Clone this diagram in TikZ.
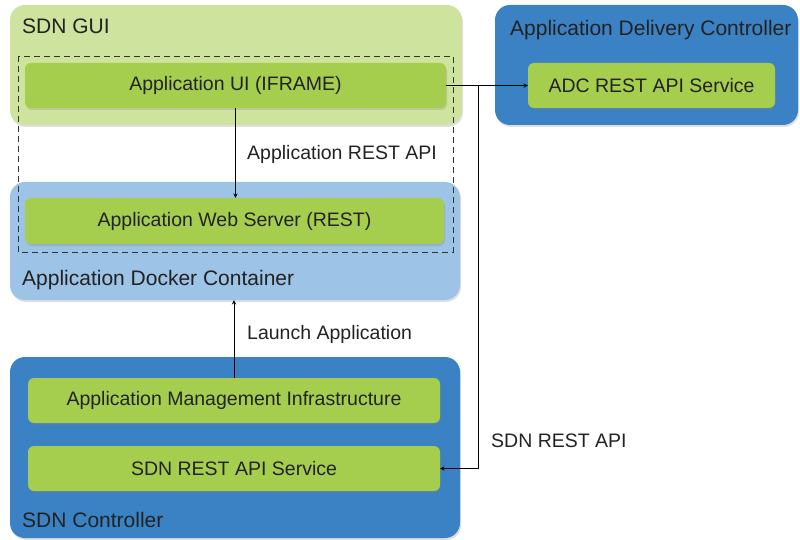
\documentclass[tikz,border=0pt]{standalone}
\usepackage{fontspec}
\setmainfont{Liberation Sans}
\usetikzlibrary{shadows}

\definecolor{guigreen}{HTML}{CEE39D}
\definecolor{svcgreen}{HTML}{A6CE4E}
\definecolor{dockerblue}{HTML}{9DC3E6}
\definecolor{ctlblue}{HTML}{3B82C4}
\definecolor{inktext}{HTML}{222222}

\begin{document}
\begin{tikzpicture}[x=1pt,y=-1pt,
	container/.style={rounded corners=15pt, inner sep=0pt,
		drop shadow={shadow xshift=1pt, shadow yshift=-2pt, opacity=0.25}},
	service/.style={fill=svcgreen, rounded corners=6pt, inner sep=0pt,
		minimum height=45pt, text=inktext,
		font=\fontsize{19.5}{23}\selectfont,
		drop shadow={shadow xshift=1pt, shadow yshift=-2pt, opacity=0.25}},
	title/.style={anchor=base west, inner sep=0pt, text=inktext,
		font=\fontsize{21}{25}\selectfont},
	edgelabel/.style={anchor=base west, inner sep=0pt, text=inktext,
		font=\fontsize{19.5}{23}\selectfont},
	>=stealth]

	\useasboundingbox (0,0) rectangle (800,540);

	% SDN GUI
	\node[container, fill=guigreen, minimum width=452pt, minimum height=120pt] (gui) at (236,65) {};
	\node[title] (guititle) at (22,34) {SDN GUI};
	\node[service, minimum width=421pt] (appui) at (235.5,85.5) {Application UI (IFRAME)};

	% application delivery controller
	\node[container, fill=ctlblue, minimum width=303pt, minimum height=120pt] (adc) at (646.5,65) {};
	\node[title] (adctitle) at (510,36) {Application Delivery Controller};
	\node[service, minimum width=247pt] (adcsvc) at (651.5,85.5) {ADC REST API Service};

	% docker container
	\node[container, fill=dockerblue, minimum width=450pt, minimum height=118pt] (docker) at (235,241) {};
	\node[title] (dockertitle) at (22,285) {Application Docker Container};
	\node[service, minimum width=419pt, minimum height=46pt] (websrv) at (234.5,221) {Application Web Server (REST)};

	% SDN controller
	\node[container, fill=ctlblue, minimum width=450pt, minimum height=181pt] (sdnctl) at (235,447.5) {};
	\node[title] (sdntitle) at (22,527) {SDN Controller};
	\node[service, minimum width=412pt] (ami) at (234,400.5) {Application Management Infrastructure};
	\node[service, minimum width=412pt] (sdnsvc) at (234,468.5) {SDN REST API Service};

	% application frame
	\draw[dashed, dash pattern=on 6pt off 4pt, line width=0.9pt, black!80] (18,56) rectangle (453,252);

	% connectors
	\draw[->, line width=0.9pt] (appui.south) -- (appui.south |- websrv.north);
	\node[edgelabel] (restlabel) at (247,160) {Application REST API};

	\draw[->, line width=0.9pt] (ami.north) -- (ami.north |- docker.south);
	\node[edgelabel] (launchlabel) at (247,339) {Launch Application};

	\coordinate (split) at (478,85.5);
	\draw[->, line width=0.9pt] (appui.east) -- (appui.east -| adcsvc.west);
	\draw[->, line width=0.9pt] (split) |- (sdnsvc.east);
	\node[edgelabel] (sdnlabel) at (491,447) {SDN REST API};

\end{tikzpicture}
\end{document}
